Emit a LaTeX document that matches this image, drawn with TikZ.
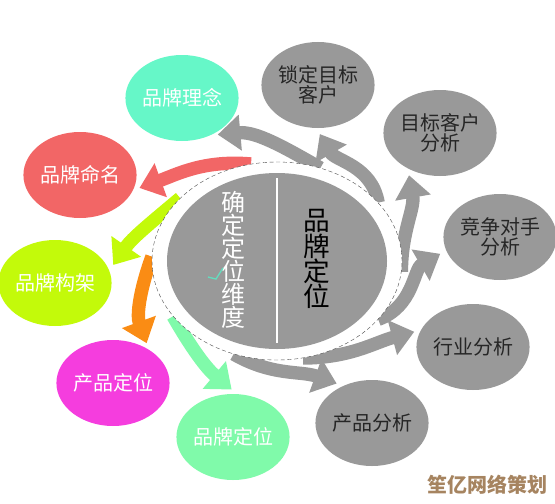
\documentclass[tikz,border=0pt]{standalone}
\usepackage{fontspec}
\newfontfamily\cjk{Noto Sans CJK SC}
\usetikzlibrary{shapes.geometric,arrows.meta}
\definecolor{ideateal}{RGB}{102,247,200}
\definecolor{namered}{RGB}{242,102,102}
\definecolor{framelime}{RGB}{195,250,10}
\definecolor{productpink}{RGB}{245,61,222}
\definecolor{brandgreen}{RGB}{128,250,170}
\definecolor{arroworange}{RGB}{250,140,20}
\definecolor{boxgrey}{RGB}{153,153,153}
\definecolor{checkteal}{RGB}{100,220,190}
\definecolor{markbrown}{RGB}{166,132,96}
\def \bubblefont {\cjk\fontsize{15}{15}\selectfont}
\pgfdeclarelayer{back}
\pgfsetlayers{back,main}
\tikzset{
  bubble/.style={ellipse, minimum width=81pt, minimum height=64.5pt, inner sep=0pt,
    align=center, font=\bubblefont},
  leftbubble/.style={bubble, text=white},
  rightbubble/.style={bubble, fill=boxgrey, text=black!85},
  flow/.style={line width=10pt, -{Triangle[width=26pt,length=17pt]}, shorten >=5pt},
}

\begin{document}
\begin{tikzpicture}[x=0.75pt,y=0.75pt]
\useasboundingbox (0,0) rectangle (555,-503);
% Draw the centre: white ring and grey core
\node[ellipse, fill=white, draw=black!70, densely dashed, line width=0.3pt,
  minimum width=187.5pt, minimum height=148.5pt, inner sep=0pt] (ring) at (277,-261) {};
\node[ellipse, fill=boxgrey, minimum width=165pt, minimum height=132pt,
  inner sep=0pt] (core) at (277,-261) {};
\draw[white, line width=1.5pt] (277,-178) -- (277,-343);
\node[font=\cjk\fontsize{18}{17.3}\selectfont, text=white, align=center] (dims)
  at (233,-260) {确\\定\\定\\位\\维\\度};
\node[font=\cjk\fontsize{20}{18.8}\selectfont, text=black, align=center] (brand)
  at (317,-259) {品\\牌\\定\\位};
\draw[checkteal, line width=1pt] (208,-277) -- (216,-279) -- (223,-268);
% Draw the coloured bubbles on the left
\foreach \name/\pos/\col/\txt in {idea/{182,-98}/ideateal/品牌理念,
    naming/{80,-175}/namered/品牌命名, frame/{55,-283}/framelime/品牌构架,
    prodpos/{113,-383}/productpink/产品定位, brandpos/{233,-437}/brandgreen/品牌定位}
  \node[leftbubble, fill=\col] (\name) at (\pos) {\txt};
% Draw the grey bubbles on the right
\foreach \name/\pos/\txt in {target/{318,-85}/{锁定目标\\客户},
    analysis/{440,-133}/{目标客户\\分析}, rival/{500,-237}/{竞争对手\\分析},
    industry/{473,-347}/行业分析, product/{372,-423}/产品分析}
  \node[rightbubble] (\name) at (\pos) {\txt};
% Draw the arrows from the ring to the bubbles
\begin{pgfonlayer}{back}
\foreach \a/\dest/\b/\o/\i/\col in {65/idea/-52/150/5/boxgrey,
    105/naming/-16/175/20/namered, 147/frame/13/220/55/framelime,
    178/prodpos/43/250/110/arroworange, 208/brandpos/85/-60/140/brandgreen,
    30/target/-92/100/-60/boxgrey, -5/analysis/-132/90/-80/boxgrey,
    -30/rival/-166/20/210/boxgrey, -75/industry/162/0/195/boxgrey,
    -115/product/128/-30/160/boxgrey}
  \draw[flow, \col] (ring.\a) to[out=\o, in=\i] (\dest.\b);
\end{pgfonlayer}
% Draw the mark
\node[font=\cjk\bfseries\fontsize{15}{15}\selectfont, text=markbrown] (mark)
  at (487,-485) {笙亿网络策划};
\end{tikzpicture}
\end{document}
